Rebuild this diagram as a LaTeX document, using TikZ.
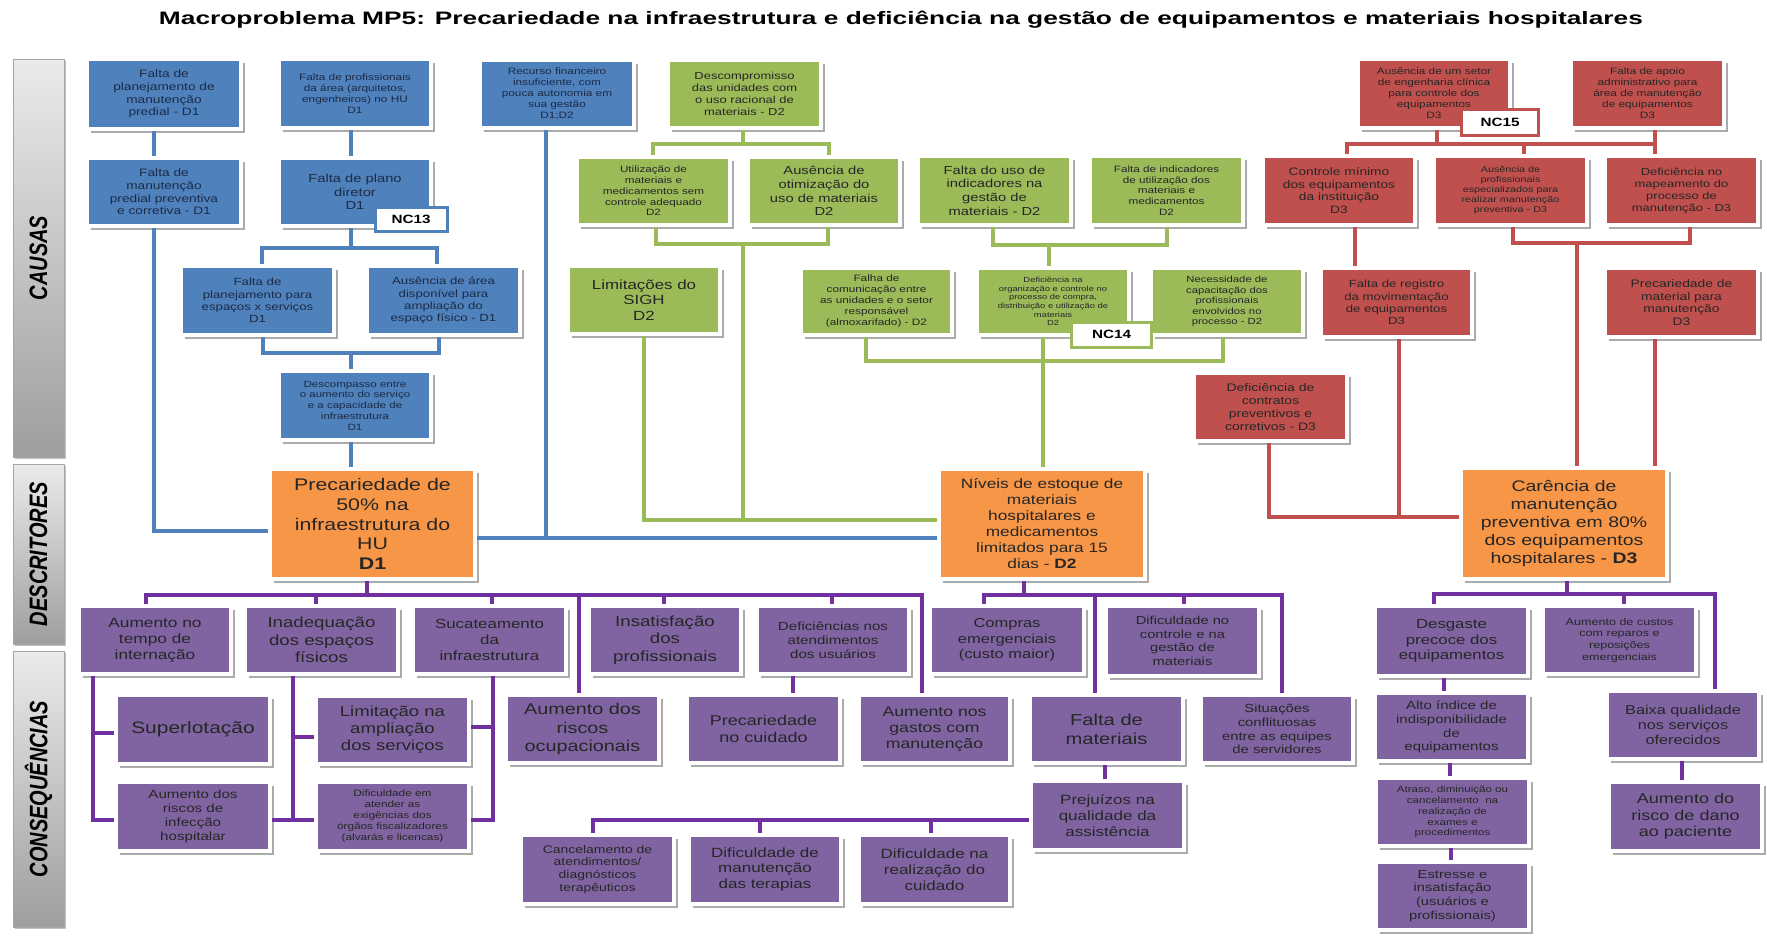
\documentclass[tikz,border=0pt]{standalone}
\usepackage{fontspec}
\usepackage{graphicx}
\setmainfont{Liberation Sans}[FakeStretch=1.27]
\newfontfamily\plainsans{Liberation Sans}
\usetikzlibrary{shadows}

\definecolor{cBlue}{HTML}{4F81BD}
\definecolor{cGreen}{HTML}{9BBB59}
\definecolor{cRed}{HTML}{C0504D}
\definecolor{cOrange}{HTML}{F79646}
\definecolor{cPurple}{HTML}{8064A2}
\definecolor{cPurpleLine}{HTML}{7030A0}
\definecolor{txtBlue}{HTML}{1C2B45}
\definecolor{txtDark}{HTML}{262626}

% box from its corners: name, x1, y1, x2, y2, style, text
\newcommand\mkbox[7]{%
  \node[#6, minimum width={#4-#2+4}, minimum height={#5-#3+4}]
    (#1) at ({(#2+#4)/2},{(#3+#5)/2}) {#7};}

\tikzset{
  card/.style={draw=white, line width=4pt, inner sep=1pt, align=center, text=txtDark,
    drop shadow={shadow xshift=3.5pt, shadow yshift=-3.5pt, fill=black, opacity=.33}},
  bluecard/.style={card, fill=cBlue, text=txtBlue},
  greencard/.style={card, fill=cGreen},
  redcard/.style={card, fill=cRed},
  orangecard/.style={card, fill=cOrange},
  purplecard/.style={card, fill=cPurple},
  fz/.style 2 args={font=\fontsize{#1}{#2}\selectfont},
  lnB/.style={draw=cBlue, line width=3.5pt},
  lnG/.style={draw=cGreen, line width=3.5pt},
  lnR/.style={draw=cRed, line width=3.5pt},
  lnP/.style={draw=cPurpleLine, line width=3.5pt},
  nclabel/.style={fill=white, line width=3pt, inner sep=0pt, text=black,
    font=\bfseries\fontsize{12}{14}\selectfont},
  sidebox/.style={draw=black!35, line width=1pt, top color=black!8, bottom color=black!38,
    drop shadow={shadow xshift=2pt, shadow yshift=-2pt, fill=black, opacity=.25}},
  sidetext/.style={rotate=90, text=black, font=\plainsans\bfseries\itshape\fontsize{20}{24}\selectfont},
}

\begin{document}
\begin{tikzpicture}[x=1pt, y=-1pt]
\useasboundingbox (0,0) rectangle (1767,935);
\fill[white] (0,0) rectangle (1767,935);

% title
\node (title) at (901,20) {\resizebox{1484pt}{\height}{\plainsans\bfseries\fontsize{18}{20}\selectfont
  Macroproblema MP5: Precariedade na infraestrutura e deficiência na gestão de equipamentos e materiais hospitalares}};

% row labels
\node[sidebox, minimum width=51, minimum height=398] (sCausas) at (38.5,258) {};
\node[sidetext] at (sCausas) {\scalebox{1}[1.26]{CAUSAS}};
\node[sidebox, minimum width=51, minimum height=180] (sDesc) at (38.5,554) {};
\node[sidetext] at (sDesc) {\scalebox{1}[1.26]{DESCRITORES}};
\node[sidebox, minimum width=51, minimum height=276] (sCons) at (38.5,789) {};
\node[sidetext] at (sCons) {\scalebox{1}[1.26]{CONSEQUÊNCIAS}};

% causes D1 (blue)
\mkbox{B1}{89}{61}{239}{127}{bluecard, fz={10.8}{12.7}}{Falta de\\planejamento de\\manutenção\\predial - D1}
\mkbox{B2}{281}{61}{429}{126}{bluecard, fz={9.3}{11}}{Falta de profissionais\\da área (arquitetos,\\engenheiros) no HU\\D1}
\mkbox{B3}{89}{160}{239}{224}{bluecard, fz={10.8}{12.7}}{Falta de\\manutenção\\predial preventiva\\e corretiva - D1}
\mkbox{B4}{281}{160}{429}{224}{bluecard, fz={11.6}{13.7}}{Falta de plano\\diretor\\D1}
\mkbox{B5}{183}{268}{332}{333}{bluecard, fz={10.4}{12.3}}{Falta de\\planejamento para\\espaços x serviços\\D1}
\mkbox{B6}{369}{268}{518}{333}{bluecard, fz={10.4}{12.3}}{Ausência de área\\disponível para\\ampliação do\\espaço físico - D1}
\mkbox{B7}{281}{373}{429}{438}{bluecard, fz={9.1}{10.7}}{Descompasso entre\\o aumento do serviço\\e a capacidade de\\infraestrutura\\D1}
\mkbox{B8}{482}{62}{632}{126}{bluecard, fz={9.3}{11}}{Recurso financeiro\\insuficiente, com\\pouca autonomia em\\sua gestão\\D1;D2}

% causes D2 (green)
\mkbox{G1}{670}{62}{819}{126}{greencard, fz={10.2}{12}}{Descompromisso\\das unidades com\\o uso racional de\\materiais - D2}
\mkbox{G2}{579}{159}{728}{223}{greencard, fz={9.2}{10.8}}{Utilização de\\materiais e\\medicamentos sem\\controle adequado\\D2}
\mkbox{G3}{750}{159}{898}{223}{greencard, fz={11.6}{13.7}}{Ausência de\\otimização do\\uso de materiais\\D2}
\mkbox{G4}{570}{268}{718}{332}{greencard, fz={13.3}{15.6}}{Limitações do\\SIGH\\D2}
\mkbox{G5}{920}{158}{1069}{223}{greencard, fz={11.6}{13.7}}{Falta do uso de\\indicadores na\\gestão de\\materiais - D2}
\mkbox{G6}{1092}{158}{1241}{223}{greencard, fz={9.2}{10.8}}{Falta de indicadores\\de utilização dos\\materiais e\\medicamentos\\D2}
\mkbox{G7}{803}{270}{950}{333}{greencard, fz={9.3}{11}}{Falha de\\comunicação entre\\as unidades e o setor\\responsável\\(almoxarifado) - D2}
\mkbox{G8}{979}{270}{1127}{333}{greencard, fz={7.4}{8.7}}{Deficiência na\\organização e controle no\\processo de compra,\\distribuição e utilização de\\materiais\\D2}
\mkbox{G9}{1153}{270}{1301}{333}{greencard, fz={8.9}{10.5}}{Necessidade de\\capacitação dos\\profissionais\\envolvidos no\\processo - D2}

% causes D3 (red)
\mkbox{R1}{1360}{61}{1508}{126}{redcard, fz={9.3}{11}}{Ausência de um setor\\de engenharia clínica\\para controle dos\\equipamentos\\D3}
\mkbox{R2}{1573}{61}{1722}{126}{redcard, fz={9.3}{11}}{Falta de apoio\\administrativo para\\área de manutenção\\de equipamentos\\D3}
\mkbox{R3}{1265}{158}{1413}{223}{redcard, fz={10.8}{12.7}}{Controle mínimo\\dos equipamentos\\da instituição\\D3}
\mkbox{R4}{1436}{158}{1585}{223}{redcard, fz={8.5}{10}}{Ausência de\\profissionais\\especializados para\\realizar manutenção\\preventiva - D3}
\mkbox{R5}{1607}{158}{1756}{223}{redcard, fz={10.2}{12}}{Deficiência no\\mapeamento do\\processo de\\manutenção - D3}
\mkbox{R6}{1323}{270}{1470}{335}{redcard, fz={10.4}{12.3}}{Falta de registro\\da movimentação\\de equipamentos\\D3}
\mkbox{R7}{1607}{270}{1756}{335}{redcard, fz={10.9}{12.8}}{Precariedade de\\material para\\manutenção\\D3}
\mkbox{R8}{1196}{375}{1345}{439}{redcard, fz={11}{13}}{Deficiência de\\contratos\\preventivos e\\corretivos - D3}

% descriptors (orange)
\mkbox{D1}{272}{471}{473}{577}{orangecard, fz={16.8}{19.8}}{Precariedade de\\50\% na\\infraestrutura do\\HU\\\textbf{D1}}
\mkbox{D2}{941}{471}{1143}{577}{orangecard, fz={13.6}{16}}{Níveis de estoque de\\materiais\\hospitalares e\\medicamentos\\limitados para 15\\dias - \textbf{D2}}
\mkbox{D3}{1463}{470}{1665}{577}{orangecard, fz={15.3}{18}}{Carência de\\manutenção\\preventiva em 80\%\\dos equipamentos\\hospitalares - \textbf{D3}}

% consequences, first row (purple)
\mkbox{C1}{81}{608}{229}{672}{purplecard, fz={13.6}{16}}{Aumento no\\tempo de\\internação}
\mkbox{C2}{247}{608}{396}{672}{purplecard, fz={14.7}{17.3}}{Inadequação\\dos espaços\\físicos}
\mkbox{C3}{415}{608}{564}{672}{purplecard, fz={13.3}{15.7}}{Sucateamento\\da\\infraestrutura}
\mkbox{C4}{591}{608}{739}{672}{purplecard, fz={14.7}{17.3}}{Insatisfação\\dos\\profissionais}
\mkbox{C5}{759}{608}{907}{672}{purplecard, fz={11.9}{14}}{Deficiências nos\\atendimentos\\dos usuários}
\mkbox{C6}{932}{608}{1082}{672}{purplecard, fz={13}{15.3}}{Compras\\emergenciais\\(custo maior)}
\mkbox{C7}{1108}{608}{1257}{674}{purplecard, fz={11.6}{13.6}}{Dificuldade no\\controle e na\\gestão de\\materiais}
\mkbox{C8}{1377}{608}{1526}{674}{purplecard, fz={13.2}{15.5}}{Desgaste\\precoce dos\\equipamentos}
\mkbox{C9}{1545}{608}{1694}{672}{purplecard, fz={9.9}{11.7}}{Aumento de custos\\com reparos e\\reposições\\emergenciais}

% consequences, further rows
\mkbox{K1}{118}{697}{268}{762}{purplecard, fz={16.5}{19}}{Superlotação}
\mkbox{K2}{118}{784}{268}{849}{purplecard, fz={11.9}{14}}{Aumento dos\\riscos de\\infecção\\hospitalar}
\mkbox{K4}{318}{698}{467}{762}{purplecard, fz={14.6}{17.2}}{Limitação na\\ampliação\\dos serviços}
\mkbox{K5}{318}{784}{467}{849}{purplecard, fz={9.3}{11}}{Dificuldade em\\atender as\\exigências dos\\órgãos fiscalizadores\\(alvarás e licencas)}
\mkbox{K3}{508}{697}{657}{761}{purplecard, fz={15.6}{18.3}}{Aumento dos\\riscos\\ocupacionais}
\mkbox{K9}{689}{697}{838}{761}{purplecard, fz={14.2}{16.7}}{Precariedade\\no cuidado}
\mkbox{K6}{861}{697}{1008}{761}{purplecard, fz={13.9}{16.3}}{Aumento nos\\gastos com\\manutenção}
\mkbox{K7}{1032}{697}{1181}{761}{purplecard, fz={15.9}{18.7}}{Falta de\\materiais}
\mkbox{K8}{1203}{697}{1351}{761}{purplecard, fz={11.7}{13.8}}{Situações\\conflituosas\\entre as equipes\\de servidores}
\mkbox{K10}{1033}{783}{1182}{848}{purplecard, fz={13.4}{15.8}}{Prejuízos na\\qualidade da\\assistência}
\mkbox{L1}{523}{837}{672}{902}{purplecard, fz={11}{12.9}}{Cancelamento de\\atendimentos/\\diagnósticos\\terapêuticos}
\mkbox{L2}{691}{837}{839}{902}{purplecard, fz={13.4}{15.8}}{Dificuldade de\\manutenção\\das terapias}
\mkbox{L3}{861}{837}{1008}{902}{purplecard, fz={13.4}{15.8}}{Dificuldade na\\realização do\\cuidado}
\mkbox{M1}{1377}{695}{1526}{759}{purplecard, fz={11.8}{13.9}}{Alto índice de\\indisponibilidade\\de\\equipamentos}
\mkbox{M2}{1378}{780}{1527}{844}{purplecard, fz={9.1}{10.7}}{Atraso, diminuição ou\\cancelamento~ na\\realização de\\exames e\\procedimentos}
\mkbox{M3}{1378}{864}{1527}{928}{purplecard, fz={11.6}{13.7}}{Estresse e\\insatisfação\\(usuários e\\profissionais)}
\mkbox{K12}{1609}{693}{1757}{757}{purplecard, fz={12.8}{15}}{Baixa qualidade\\nos serviços\\oferecidos}
\mkbox{K13}{1611}{784}{1760}{849}{purplecard, fz={14.2}{16.7}}{Aumento do\\risco de dano\\ao paciente}

% ---- blue connectors
\coordinate (jA) at (154,531);
\draw[lnB] (B1.south -| jA) -- (B3.north -| jA);
\draw[lnB] (B3.south -| jA) -- (jA) -- (D1.west |- jA);
\coordinate (jB) at (351,248);
\coordinate (jB1) at (262,248);
\coordinate (jB2) at (437,248);
\draw[lnB] (B2.south -| jB) -- (B4.north -| jB);
\draw[lnB] (B4.south -| jB) -- (jB);
\draw[lnB] (B5.north -| jB1) -- (jB1) -- (jB2) -- (B6.north -| jB2);
\coordinate (jC) at (351,353);
\coordinate (jC1) at (263,353);
\coordinate (jC2) at (439,353);
\draw[lnB] (B5.south -| jC1) -- (jC1) -- (jC2) -- (B6.south -| jC2);
\draw[lnB] (jC) -- (B7.north -| jC);
\draw[lnB] (B7.south -| jC) -- (D1.north -| jC);
\coordinate (jD) at (546,538);
\draw[lnB] (B8.south -| jD) -- (jD);
\draw[lnB] (D1.east |- jD) -- (D2.west |- jD);

% ---- green connectors
\coordinate (jE) at (743,144);
\coordinate (jE1) at (653,144);
\coordinate (jE2) at (829,144);
\draw[lnG] (G1.south -| jE) -- (jE);
\draw[lnG] (G2.north -| jE1) -- (jE1) -- (jE2) -- (G3.north -| jE2);
\coordinate (jF) at (743,244);
\coordinate (jF1) at (656,244);
\coordinate (jF2) at (828,244);
\draw[lnG] (G2.south -| jF1) -- (jF1) -- (jF2) -- (G3.south -| jF2);
\coordinate (jG) at (644,520);
\draw[lnG] (jF) -- (jF |- jG);
\draw[lnG] (G4.south -| jG) -- (jG) -- (D2.west |- jG);
\coordinate (jH) at (1049,245);
\coordinate (jH1) at (993,245);
\coordinate (jH2) at (1167,245);
\draw[lnG] (G5.south -| jH1) -- (jH1) -- (jH2) -- (G6.south -| jH2);
\draw[lnG] (jH) -- (G8.north -| jH);
\coordinate (jI) at (1043,361);
\coordinate (jI1) at (866,361);
\coordinate (jI2) at (1223,361);
\draw[lnG] (G7.south -| jI1) -- (jI1) -- (jI2) -- (G9.south -| jI2);
\draw[lnG] (G8.south -| jI) -- (D2.north -| jI);

% ---- red connectors
\coordinate (jJ) at (1437,144);
\coordinate (jJ1) at (1347,144);
\coordinate (jJ2) at (1524,144);
\coordinate (jJ3) at (1655,144);
\draw[lnR] (R1.south -| jJ) -- (jJ);
\draw[lnR] (R2.south -| jJ3) -- (jJ3);
\draw[lnR] (R3.north -| jJ1) -- (jJ1) -- (jJ3) -- (R5.north -| jJ3);
\draw[lnR] (jJ2) -- (R4.north -| jJ2);
\coordinate (jK) at (1355,0);
\draw[lnR] (R3.south -| jK) -- (R6.north -| jK);
\coordinate (jL) at (1577,243);
\coordinate (jL1) at (1513,243);
\coordinate (jL2) at (1690,243);
\draw[lnR] (R4.south -| jL1) -- (jL1) -- (jL2) -- (R5.south -| jL2);
\draw[lnR] (jL) -- (D3.north -| jL);
\coordinate (jM) at (1655,0);
\draw[lnR] (R7.south -| jM) -- (D3.north -| jM);
\coordinate (jN) at (1399,517);
\coordinate (jN1) at (1269,517);
\draw[lnR] (R6.south -| jN) -- (jN);
\draw[lnR] (R8.south -| jN1) -- (jN1) -- (D3.west |- jN1);

% ---- purple connectors
\coordinate (jP) at (367,595);
\coordinate (jP1) at (146,595);
\coordinate (jP7) at (922,595);
\draw[lnP] (D1.south -| jP) -- (jP);
\draw[lnP] (C1.north -| jP1) -- (jP1) -- (jP7) -- (K6.north -| jP7);
\foreach \xx/\nn in {316/C2, 492/C3, 579/K3, 664/C4, 832/C5} {
  \coordinate (t) at (\xx,595);
  \draw[lnP] (t) -- (\nn.north -| t);
}
\coordinate (jQ) at (1024,595);
\coordinate (jQ1) at (984,595);
\coordinate (jQ4) at (1282,595);
\draw[lnP] (D2.south -| jQ) -- (jQ);
\draw[lnP] (C6.north -| jQ1) -- (jQ1) -- (jQ4) -- (K8.north -| jQ4);
\foreach \xx/\nn in {1095/K7, 1184/C7} {
  \coordinate (t) at (\xx,595);
  \draw[lnP] (t) -- (\nn.north -| t);
}
\coordinate (jR) at (1567,594);
\coordinate (jR1) at (1434,594);
\coordinate (jR2) at (1624,594);
\coordinate (jR3) at (1715,594);
\draw[lnP] (D3.south -| jR) -- (jR);
\draw[lnP] (C8.north -| jR1) -- (jR1) -- (jR3) -- (K12.north -| jR3);
\draw[lnP] (jR2) -- (C9.north -| jR2);

\coordinate (jS1) at (93,733);
\coordinate (jS2) at (93,820);
\draw[lnP] (C1.south -| jS1) -- (jS2) -- (K2.west |- jS2);
\draw[lnP] (jS1) -- (K1.west |- jS1);
\coordinate (jT1) at (293,737);
\coordinate (jT2) at (293,820);
\draw[lnP] (C2.south -| jT1) -- (jT2);
\draw[lnP] (jT1) -- (K4.west |- jT1);
\draw[lnP] (K2.east |- jT2) -- (K5.west |- jT2);
\coordinate (jU1) at (493,727);
\coordinate (jU2) at (493,820);
\draw[lnP] (C3.south -| jU1) -- (jU2) -- (K5.east |- jU2);
\draw[lnP] (jU1) -- (K4.east |- jU1);
\coordinate (jV) at (793,0);
\draw[lnP] (C5.south -| jV) -- (K9.north -| jV);
\coordinate (jW) at (1105,0);
\draw[lnP] (K7.south -| jW) -- (K10.north -| jW);
\coordinate (jX1) at (593,820);
\coordinate (jX2) at (760,820);
\coordinate (jX3) at (931,820);
\draw[lnP] (K10.west |- jX1) -- (jX1) -- (L1.north -| jX1);
\draw[lnP] (jX2) -- (L2.north -| jX2);
\draw[lnP] (jX3) -- (L3.north -| jX3);
\coordinate (jY1) at (1444,0);
\coordinate (jY2) at (1450,0);
\coordinate (jY3) at (1451,0);
\coordinate (jY4) at (1682,0);
\draw[lnP] (C8.south -| jY1) -- (M1.north -| jY1);
\draw[lnP] (M1.south -| jY2) -- (M2.north -| jY2);
\draw[lnP] (M2.south -| jY3) -- (M3.north -| jY3);
\draw[lnP] (K12.south -| jY4) -- (K13.north -| jY4);

% critical-node tags
\node[nclabel, draw=cBlue, minimum width=72, minimum height=24] (nc13) at (411,219) {NC13};
\node[nclabel, draw=cGreen, minimum width=80, minimum height=25] (nc14) at (1111.5,334.5) {NC14};
\node[nclabel, draw=cRed, minimum width=77, minimum height=26] (nc15) at (1500,122.5) {NC15};
\end{tikzpicture}
\end{document}
